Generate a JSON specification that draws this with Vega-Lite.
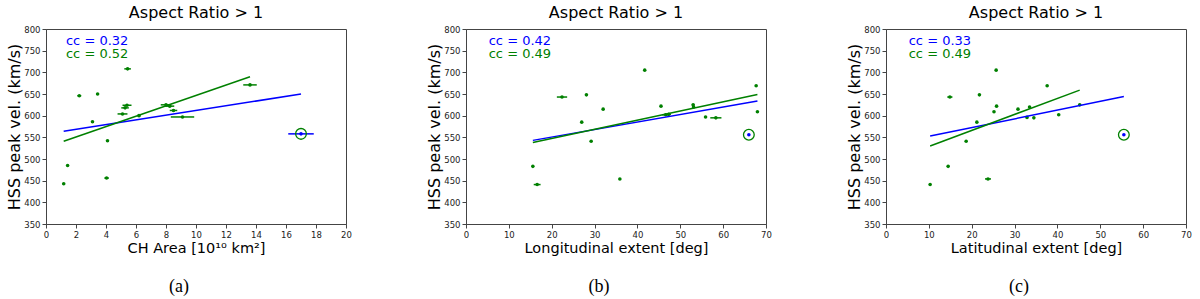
{
  "$schema": "https://vega.github.io/schema/vega-lite/v6.json",
  "padding": {"left": 6, "top": 4, "right": 5, "bottom": 5},
  "spacing": 74,
  "config": {
    "font": "DejaVu Sans",
    "view": {"stroke": "#444", "strokeWidth": 1},
    "axis": {"grid": false, "domainColor": "#444", "tickColor": "#444", "labelColor": "#222", "labelFont": "DejaVu Sans", "labelFontSize": 8.5, "titleFont": "DejaVu Sans", "titleFontWeight": "normal", "titleColor": "#000", "tickSize": 4, "labelPadding": 2, "labelOverlap": false, "labelFlush": false},
    "axisX": {"titleFontSize": 14.5, "titlePadding": 3},
    "axisY": {"titleFontSize": 16, "titlePadding": 1},
    "title": {"font": "DejaVu Sans", "fontSize": 16, "fontWeight": "normal", "color": "#000", "offset": 4, "anchor": "middle"}
  },
  "datasets": {
    "pts": [
      {"p": "a", "x": 1.18, "y": 443, "xmin": 1.13, "xmax": 1.23, "g": "fit"},
      {"p": "a", "x": 1.44, "y": 485, "xmin": 1.39, "xmax": 1.49, "g": "fit"},
      {"p": "a", "x": 2.22, "y": 646, "xmin": 2.09, "xmax": 2.35, "g": "fit"},
      {"p": "a", "x": 3.1, "y": 586, "xmin": 3.02, "xmax": 3.18, "g": "fit"},
      {"p": "a", "x": 3.44, "y": 650, "xmin": 3.38, "xmax": 3.5, "g": "fit"},
      {"p": "a", "x": 4.04, "y": 456, "xmin": 3.89, "xmax": 4.19, "g": "fit"},
      {"p": "a", "x": 4.1, "y": 542, "xmin": 4.05, "xmax": 4.15, "g": "fit"},
      {"p": "a", "x": 5.1, "y": 604, "xmin": 4.77, "xmax": 5.43, "g": "fit"},
      {"p": "a", "x": 5.27, "y": 618, "xmin": 5.02, "xmax": 5.52, "g": "fit"},
      {"p": "a", "x": 5.4, "y": 624, "xmin": 5.1, "xmax": 5.7, "g": "fit"},
      {"p": "a", "x": 5.44, "y": 708, "xmin": 5.22, "xmax": 5.66, "g": "fit"},
      {"p": "a", "x": 6.2, "y": 600, "xmin": 6.1, "xmax": 6.3, "g": "fit"},
      {"p": "a", "x": 8.0, "y": 625, "xmin": 7.65, "xmax": 8.35, "g": "fit"},
      {"p": "a", "x": 8.25, "y": 622, "xmin": 7.95, "xmax": 8.55, "g": "fit"},
      {"p": "a", "x": 8.5, "y": 612, "xmin": 8.25, "xmax": 8.75, "g": "fit"},
      {"p": "a", "x": 9.1, "y": 597, "xmin": 8.32, "xmax": 9.88, "g": "fit"},
      {"p": "a", "x": 13.6, "y": 671, "xmin": 13.15, "xmax": 14.05, "g": "fit"},
      {"p": "a", "x": 17.0, "y": 558, "xmin": 16.15, "xmax": 17.85, "g": "out"},
      {"p": "b", "x": 15.6, "y": 483, "xmin": 15.5, "xmax": 15.7, "g": "fit"},
      {"p": "b", "x": 16.6, "y": 441, "xmin": 15.8, "xmax": 17.4, "g": "fit"},
      {"p": "b", "x": 22.4, "y": 643, "xmin": 21.2, "xmax": 23.6, "g": "fit"},
      {"p": "b", "x": 27.0, "y": 585, "xmin": 26.8, "xmax": 27.2, "g": "fit"},
      {"p": "b", "x": 28.1, "y": 648, "xmin": 27.9, "xmax": 28.3, "g": "fit"},
      {"p": "b", "x": 29.2, "y": 541, "xmin": 29.0, "xmax": 29.4, "g": "fit"},
      {"p": "b", "x": 32.0, "y": 615, "xmin": 31.8, "xmax": 32.2, "g": "fit"},
      {"p": "b", "x": 35.9, "y": 454, "xmin": 35.7, "xmax": 36.1, "g": "fit"},
      {"p": "b", "x": 41.7, "y": 705, "xmin": 41.5, "xmax": 41.9, "g": "fit"},
      {"p": "b", "x": 45.5, "y": 622, "xmin": 45.3, "xmax": 45.7, "g": "fit"},
      {"p": "b", "x": 46.6, "y": 602, "xmin": 45.8, "xmax": 47.4, "g": "fit"},
      {"p": "b", "x": 47.3, "y": 603, "xmin": 46.8, "xmax": 47.8, "g": "fit"},
      {"p": "b", "x": 53.0, "y": 625, "xmin": 52.7, "xmax": 53.3, "g": "fit"},
      {"p": "b", "x": 53.1, "y": 620, "xmin": 52.8, "xmax": 53.4, "g": "fit"},
      {"p": "b", "x": 55.9, "y": 597, "xmin": 55.7, "xmax": 56.1, "g": "fit"},
      {"p": "b", "x": 58.3, "y": 595, "xmin": 57.0, "xmax": 59.6, "g": "fit"},
      {"p": "b", "x": 67.7, "y": 669, "xmin": 67.5, "xmax": 67.9, "g": "fit"},
      {"p": "b", "x": 68.0, "y": 609, "xmin": 67.8, "xmax": 68.2, "g": "fit"},
      {"p": "b", "x": 66.0, "y": 556, "xmin": 65.8, "xmax": 66.2, "g": "out"},
      {"p": "c", "x": 10.3, "y": 441, "xmin": 10.1, "xmax": 10.5, "g": "fit"},
      {"p": "c", "x": 14.5, "y": 483, "xmin": 14.3, "xmax": 14.7, "g": "fit"},
      {"p": "c", "x": 14.9, "y": 643, "xmin": 14.3, "xmax": 15.5, "g": "fit"},
      {"p": "c", "x": 18.7, "y": 541, "xmin": 18.5, "xmax": 18.9, "g": "fit"},
      {"p": "c", "x": 21.2, "y": 585, "xmin": 21.0, "xmax": 21.4, "g": "fit"},
      {"p": "c", "x": 21.8, "y": 648, "xmin": 21.6, "xmax": 22.0, "g": "fit"},
      {"p": "c", "x": 23.8, "y": 454, "xmin": 23.1, "xmax": 24.5, "g": "fit"},
      {"p": "c", "x": 25.2, "y": 609, "xmin": 25.0, "xmax": 25.4, "g": "fit"},
      {"p": "c", "x": 25.7, "y": 705, "xmin": 25.5, "xmax": 25.9, "g": "fit"},
      {"p": "c", "x": 25.8, "y": 622, "xmin": 25.6, "xmax": 26.0, "g": "fit"},
      {"p": "c", "x": 30.8, "y": 615, "xmin": 30.6, "xmax": 31.0, "g": "fit"},
      {"p": "c", "x": 32.9, "y": 596, "xmin": 32.7, "xmax": 33.1, "g": "fit"},
      {"p": "c", "x": 33.5, "y": 620, "xmin": 33.3, "xmax": 33.7, "g": "fit"},
      {"p": "c", "x": 34.5, "y": 595, "xmin": 34.3, "xmax": 34.7, "g": "fit"},
      {"p": "c", "x": 37.6, "y": 669, "xmin": 37.4, "xmax": 37.8, "g": "fit"},
      {"p": "c", "x": 40.3, "y": 602, "xmin": 40.1, "xmax": 40.5, "g": "fit"},
      {"p": "c", "x": 45.2, "y": 625, "xmin": 45.0, "xmax": 45.4, "g": "fit"},
      {"p": "c", "x": 55.5, "y": 556, "xmin": 55.3, "xmax": 55.7, "g": "out"}
    ],
    "fits": [
      {"p": "a", "g": "out", "x": 1.18, "y": 564},
      {"p": "a", "g": "out", "x": 17.0, "y": 650},
      {"p": "a", "g": "fit", "x": 1.18, "y": 541},
      {"p": "a", "g": "fit", "x": 13.6, "y": 690},
      {"p": "b", "g": "out", "x": 15.6, "y": 543},
      {"p": "b", "g": "out", "x": 68.0, "y": 634},
      {"p": "b", "g": "fit", "x": 15.6, "y": 538},
      {"p": "b", "g": "fit", "x": 68.0, "y": 649},
      {"p": "c", "g": "out", "x": 10.3, "y": 553},
      {"p": "c", "g": "out", "x": 55.5, "y": 644},
      {"p": "c", "g": "fit", "x": 10.3, "y": 530},
      {"p": "c", "g": "fit", "x": 45.2, "y": 659}
    ],
    "cc": [
      {"p": "a", "g": "out", "x": 1.33, "y": 773, "t": "cc = 0.32"},
      {"p": "a", "g": "fit", "x": 1.33, "y": 743, "t": "cc = 0.52"},
      {"p": "b", "g": "out", "x": 5.3, "y": 773, "t": "cc = 0.42"},
      {"p": "b", "g": "fit", "x": 5.3, "y": 743, "t": "cc = 0.49"},
      {"p": "c", "g": "out", "x": 5.3, "y": 773, "t": "cc = 0.33"},
      {"p": "c", "g": "fit", "x": 5.3, "y": 743, "t": "cc = 0.49"}
    ]
  },
  "hconcat": [
    {
      "title": {"text": "(a)", "orient": "bottom", "font": "Liberation Serif", "fontSize": 18, "offset": 22, "anchor": "middle"},
      "vconcat": [
        {
          "title": "Aspect Ratio > 1",
          "width": 300, "height": 195,
          "encoding": {
            "x": {"field": "x", "type": "quantitative", "scale": {"domain": [0, 20]}, "axis": {"values": [0, 2, 4, 6, 8, 10, 12, 14, 16, 18, 20], "labelOverlap": false, "title": "CH Area [10¹⁰ km²]"}},
            "y": {"field": "y", "type": "quantitative", "scale": {"domain": [350, 800]}, "axis": {"values": [350, 400, 450, 500, 550, 600, 650, 700, 750, 800], "labelOverlap": false, "title": "HSS peak vel. (km/s)"}},
            "color": {"field": "g", "type": "nominal", "scale": {"domain": ["fit", "out"], "range": ["#008000", "#0000ff"]}, "legend": null}
          },
          "layer": [
            {"data": {"name": "pts"}, "transform": [{"filter": "datum.p == 'a'"}], "mark": {"type": "rule", "strokeWidth": 1.5},
             "encoding": {"x": {"field": "xmin", "type": "quantitative", "scale": {"domain": [0, 20]}, "axis": {"values": [0, 2, 4, 6, 8, 10, 12, 14, 16, 18, 20], "labelOverlap": false, "title": "CH Area [10¹⁰ km²]"}}, "x2": {"field": "xmax"}}},
            {"data": {"name": "pts"}, "transform": [{"filter": "datum.p == 'a'"}], "mark": {"type": "point", "filled": true, "size": 13, "opacity": 1}, "encoding": {}},
            {"data": {"name": "pts"}, "transform": [{"filter": "datum.p == 'a' && datum.g == 'out'"}], "mark": {"type": "point", "filled": false, "size": 115, "strokeWidth": 1.3, "opacity": 1},
             "encoding": {"color": {"value": "#008000"}}},
            {"data": {"name": "fits"}, "transform": [{"filter": "datum.p == 'a'"}], "mark": {"type": "line", "strokeWidth": 1.5},
             "encoding": {"detail": {"field": "g"}}},
            {"data": {"name": "cc"}, "transform": [{"filter": "datum.p == 'a'"}], "mark": {"type": "text", "align": "left", "baseline": "middle", "fontSize": 13, "font": "DejaVu Sans"},
             "encoding": {"text": {"field": "t"}}}
          ]
        }
      ]
    },
    {
      "title": {"text": "(b)", "orient": "bottom", "font": "Liberation Serif", "fontSize": 18, "offset": 22, "anchor": "middle"},
      "vconcat": [
        {
          "title": "Aspect Ratio > 1",
          "width": 300, "height": 195,
          "encoding": {
            "x": {"field": "x", "type": "quantitative", "scale": {"domain": [0, 70]}, "axis": {"values": [0, 10, 20, 30, 40, 50, 60, 70], "labelOverlap": false, "title": "Longitudinal extent [deg]"}},
            "y": {"field": "y", "type": "quantitative", "scale": {"domain": [350, 800]}, "axis": {"values": [350, 400, 450, 500, 550, 600, 650, 700, 750, 800], "labelOverlap": false, "title": "HSS peak vel. (km/s)"}},
            "color": {"field": "g", "type": "nominal", "scale": {"domain": ["fit", "out"], "range": ["#008000", "#0000ff"]}, "legend": null}
          },
          "layer": [
            {"data": {"name": "pts"}, "transform": [{"filter": "datum.p == 'b'"}], "mark": {"type": "rule", "strokeWidth": 1.5},
             "encoding": {"x": {"field": "xmin", "type": "quantitative", "scale": {"domain": [0, 70]}, "axis": {"values": [0, 10, 20, 30, 40, 50, 60, 70], "labelOverlap": false, "title": "Longitudinal extent [deg]"}}, "x2": {"field": "xmax"}}},
            {"data": {"name": "pts"}, "transform": [{"filter": "datum.p == 'b'"}], "mark": {"type": "point", "filled": true, "size": 13, "opacity": 1}, "encoding": {}},
            {"data": {"name": "pts"}, "transform": [{"filter": "datum.p == 'b' && datum.g == 'out'"}], "mark": {"type": "point", "filled": false, "size": 115, "strokeWidth": 1.3, "opacity": 1},
             "encoding": {"color": {"value": "#008000"}}},
            {"data": {"name": "fits"}, "transform": [{"filter": "datum.p == 'b'"}], "mark": {"type": "line", "strokeWidth": 1.5},
             "encoding": {"detail": {"field": "g"}}},
            {"data": {"name": "cc"}, "transform": [{"filter": "datum.p == 'b'"}], "mark": {"type": "text", "align": "left", "baseline": "middle", "fontSize": 13, "font": "DejaVu Sans"},
             "encoding": {"text": {"field": "t"}}}
          ]
        }
      ]
    },
    {
      "title": {"text": "(c)", "orient": "bottom", "font": "Liberation Serif", "fontSize": 18, "offset": 22, "anchor": "middle"},
      "vconcat": [
        {
          "title": "Aspect Ratio > 1",
          "width": 300, "height": 195,
          "encoding": {
            "x": {"field": "x", "type": "quantitative", "scale": {"domain": [0, 70]}, "axis": {"values": [0, 10, 20, 30, 40, 50, 60, 70], "labelOverlap": false, "title": "Latitudinal extent [deg]"}},
            "y": {"field": "y", "type": "quantitative", "scale": {"domain": [350, 800]}, "axis": {"values": [350, 400, 450, 500, 550, 600, 650, 700, 750, 800], "labelOverlap": false, "title": "HSS peak vel. (km/s)"}},
            "color": {"field": "g", "type": "nominal", "scale": {"domain": ["fit", "out"], "range": ["#008000", "#0000ff"]}, "legend": null}
          },
          "layer": [
            {"data": {"name": "pts"}, "transform": [{"filter": "datum.p == 'c'"}], "mark": {"type": "rule", "strokeWidth": 1.5},
             "encoding": {"x": {"field": "xmin", "type": "quantitative", "scale": {"domain": [0, 70]}, "axis": {"values": [0, 10, 20, 30, 40, 50, 60, 70], "labelOverlap": false, "title": "Latitudinal extent [deg]"}}, "x2": {"field": "xmax"}}},
            {"data": {"name": "pts"}, "transform": [{"filter": "datum.p == 'c'"}], "mark": {"type": "point", "filled": true, "size": 13, "opacity": 1}, "encoding": {}},
            {"data": {"name": "pts"}, "transform": [{"filter": "datum.p == 'c' && datum.g == 'out'"}], "mark": {"type": "point", "filled": false, "size": 115, "strokeWidth": 1.3, "opacity": 1},
             "encoding": {"color": {"value": "#008000"}}},
            {"data": {"name": "fits"}, "transform": [{"filter": "datum.p == 'c'"}], "mark": {"type": "line", "strokeWidth": 1.5},
             "encoding": {"detail": {"field": "g"}}},
            {"data": {"name": "cc"}, "transform": [{"filter": "datum.p == 'c'"}], "mark": {"type": "text", "align": "left", "baseline": "middle", "fontSize": 13, "font": "DejaVu Sans"},
             "encoding": {"text": {"field": "t"}}}
          ]
        }
      ]
    }
  ]
}
